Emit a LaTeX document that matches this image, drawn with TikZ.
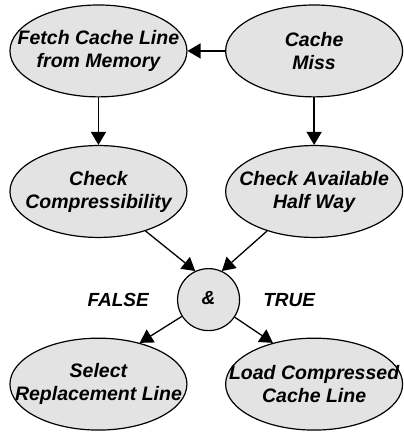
\documentclass[tikz,border=0pt]{standalone}
\usepackage{fontspec}
\setmainfont{Liberation Sans}
\usepackage{tikz}
\usetikzlibrary{arrows.meta, positioning, shapes.geometric}

\begin{document}
\begin{tikzpicture}[
                    oval/.style={
                        draw,
                        ellipse,
                        line width=1.2pt,
                        fill=gray!22,
                        minimum width=6.22cm,
                        minimum height=3.23cm,
                        inner xsep=-30pt,
                        inner ysep=0pt,
                        align=center,
                        font=\fontsize{19.5pt}{23pt}\selectfont\bfseries\itshape
                    },
                    gate/.style={
                        draw,
                        circle,
                        line width=1.2pt,
                        fill=gray!22,
                        minimum size=62pt,
                        inner sep=0pt,
                        font=\fontsize{19pt}{23pt}\selectfont\bfseries\itshape
                    },
                    lbl/.style={
                        inner sep=0pt,
                        font=\fontsize{19pt}{23pt}\selectfont\bfseries\itshape
                    },
                    arrow/.style={
                        -{Triangle[length=13pt,width=15pt]},
                        line width=1.3pt
                    }
                ]

                \useasboundingbox (0,0) rectangle (14.164,-15.253);

                % Ligne du haut
                \node[oval] (fetch) at (3.46,-1.79) {Fetch Cache Line\\from Memory};
                \node[oval] (miss) at (11.04,-1.79) {Cache\\Miss};

                % Ligne du milieu
                \node[oval] (compress) at (3.46,-6.73) {Check\\Compressibility};
                \node[oval] (half) at (11.04,-6.73) {Check Available\\Half Way};

                % Porte ET
                \node[gate] (and) at (7.33,-10.53) {\raisebox{3pt}{\&}};
                \node[lbl, left=28pt of and] (false) {FALSE};
                \node[lbl, right=23pt of and] (true) {TRUE};

                % Ligne du bas
                \node[oval] (select) at (3.46,-13.50) {Select\\Replacement Line};
                \node[oval] (load) at (11.04,-13.50) {Load Compressed\\Cache Line};

                % Flèches
                \draw[arrow] (miss.west) -- (fetch.east);
                \draw[arrow] (fetch.south) -- (compress.north);
                \draw[arrow] (miss.south) -- (half.north);
                \draw[arrow] (compress.-40) -- (and.115);
                \draw[arrow] (half.220) -- (and.65);
                \draw[arrow] (and) -- (select.45);
                \draw[arrow] (and) -- (load.135);

            \end{tikzpicture}
\end{document}
